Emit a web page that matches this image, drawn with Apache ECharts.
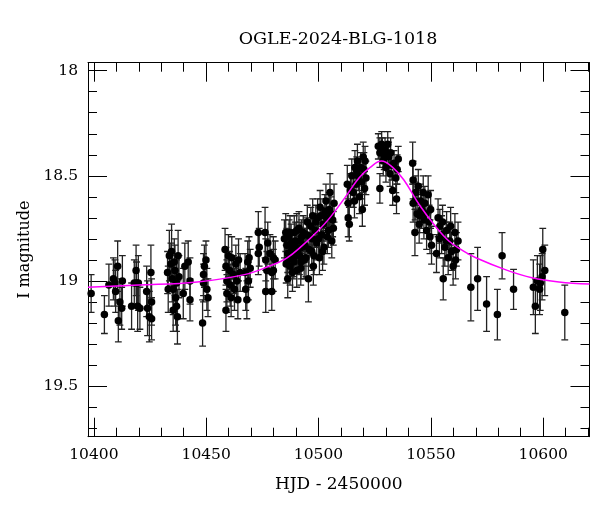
<!DOCTYPE html>
<html>
<head>
<meta charset="utf-8">
<script src="https://cdn.jsdelivr.net/npm/echarts@6/dist/echarts.min.js"></script>
<style>html,body{margin:0;padding:0;background:#fff}#c{width:600px;height:512px}</style>
</head>
<body>
<div id="c"></div>
<script>
// Observations: [HJD-2450000, I magnitude, error]
const obs = [
[10398.8,19.06,0.09],[10404.7,19.16,0.09],[10406.7,19.02,0.10],[10408.7,18.99,0.10],[10409.4,19.01,0.11],
[10409.7,19.05,0.10],[10410.6,18.93,0.12],[10410.9,19.19,0.10],[10411.6,19.10,0.11],[10412.4,19.13,0.10],
[10412.7,19.00,0.12],[10416.8,19.12,0.11],[10418.0,19.01,0.11],[10418.8,18.95,0.12],[10419.0,19.01,0.10],
[10419.5,19.12,0.12],[10419.8,19.01,0.13],[10420.5,19.13,0.10],[10423.5,19.05,0.12],[10423.9,19.13,0.13],
[10424.7,19.17,0.12],[10425.4,18.96,0.13],[10425.7,19.10,0.11],[10425.7,19.18,0.10],[10432.8,18.96,0.10],
[10433.1,19.04,0.11],[10433.6,18.88,0.12],[10434.3,18.92,0.10],[10434.6,18.86,0.13],[10434.9,18.99,0.11],
[10435.3,19.04,0.12],[10435.3,19.14,0.10],[10435.8,18.91,0.11],[10436.1,18.95,0.12],[10436.4,19.08,0.13],
[10436.8,19.01,0.11],[10436.8,19.12,0.12],[10437.2,19.17,0.13],[10437.5,18.88,0.12],[10437.9,18.98,0.10],
[10439.8,19.06,0.12],[10440.5,18.93,0.11],[10442.0,18.91,0.10],[10442.8,19.00,0.11],[10442.8,19.09,0.10],
[10448.4,19.20,0.11],[10448.8,18.97,0.10],[10448.8,19.01,0.09],[10449.2,18.93,0.10],[10449.9,18.90,0.09],
[10450.3,19.04,0.10],[10450.8,19.08,0.09],[10458.4,18.85,0.10],[10458.8,19.14,0.10],[10458.8,18.93,0.09],
[10459.2,19.00,0.10],[10459.2,19.06,0.09],[10459.9,18.88,0.10],[10460.4,18.95,0.09],[10460.7,19.02,0.10],
[10461.1,19.08,0.09],[10461.4,18.89,0.10],[10462.1,18.97,0.09],[10462.6,19.04,0.10],[10463.2,18.92,0.09],
[10463.6,19.00,0.10],[10464.1,19.09,0.09],[10464.4,18.90,0.10],[10465.1,18.96,0.09],[10467.3,18.96,0.09],
[10467.6,19.04,0.10],[10468.1,19.09,0.09],[10468.5,18.91,0.10],[10468.8,19.00,0.09],[10469.1,18.89,0.10],
[10469.6,18.94,0.09],[10473.2,18.77,0.10],[10473.6,18.84,0.09],[10473.2,18.87,0.10],[10476.2,18.77,0.12],
[10476.5,18.90,0.10],[10476.5,19.05,0.10],[10477.0,18.95,0.09],[10477.4,18.82,0.10],[10478.4,18.87,0.09],
[10479.2,19.05,0.09],[10479.9,18.95,0.10],[10480.7,18.90,0.09],[10479.2,18.96,0.09],[10479.9,18.89,0.10],
[10485.4,18.77,0.09],[10485.9,18.83,0.08],[10486.3,18.87,0.09],[10486.3,18.99,0.09],[10486.9,18.79,0.08],
[10487.3,18.93,0.09],[10488.1,18.85,0.08],[10488.8,18.89,0.09],[10489.2,18.77,0.08],[10489.6,18.81,0.09],
[10490.3,18.95,0.08],[10490.8,18.86,0.09],[10491.3,18.75,0.08],[10491.8,18.81,0.09],[10492.2,18.91,0.08],
[10492.8,18.84,0.09],[10493.2,18.77,0.08],[10486.1,18.90,0.09],[10487.3,18.77,0.08],[10489.6,18.86,0.09],
[10490.3,18.76,0.08],[10492.1,18.94,0.08],[10494.0,18.83,0.08],[10494.4,18.89,0.09],[10495.0,18.72,0.08],
[10495.5,18.99,0.11],[10496.2,18.79,0.08],[10497.0,18.86,0.09],[10497.4,18.69,0.08],[10497.7,18.93,0.09],
[10498.4,18.76,0.08],[10499.2,18.82,0.08],[10499.6,18.70,0.09],[10500.4,18.89,0.08],[10500.7,18.65,0.08],
[10501.4,18.78,0.09],[10502.1,18.73,0.08],[10502.4,18.84,0.08],[10503.3,18.62,0.08],[10503.6,18.70,0.09],
[10504.4,18.76,0.08],[10504.8,18.66,0.08],[10505.1,18.58,0.09],[10505.9,18.81,0.08],[10506.3,18.71,0.08],
[10506.9,18.63,0.09],
[10484.8,18.80,0.09],[10485.6,18.92,0.09],[10487.8,18.82,0.09],[10488.4,18.96,0.09],[10489.0,18.91,0.08],
[10490.0,18.84,0.08],[10491.5,18.88,0.09],[10492.5,18.79,0.08],[10493.6,18.90,0.09],[10494.7,18.78,0.08],
[10495.8,18.85,0.08],[10496.6,18.74,0.09],[10497.2,18.80,0.08],[10498.0,18.88,0.09],[10498.8,18.72,0.08],
[10500.0,18.80,0.08],[10501.0,18.69,0.08],[10501.8,18.86,0.09],[10502.8,18.67,0.08],[10503.9,18.79,0.08],
[10505.5,18.68,0.08],[10506.6,18.75,0.08],
[10512.8,18.54,0.09],[10513.2,18.63,0.08],[10513.2,18.70,0.09],[10513.7,18.73,0.08],[10514.8,18.50,0.08],
[10515.5,18.58,0.07],[10516.2,18.46,0.08],[10516.7,18.54,0.07],[10517.3,18.43,0.08],[10517.7,18.50,0.07],
[10518.2,18.60,0.08],[10518.8,18.46,0.07],[10519.2,18.53,0.08],[10519.9,18.41,0.07],[10520.2,18.47,0.08],
[10520.7,18.43,0.07],[10521.1,18.51,0.08],[10519.5,18.66,0.08],
[10514.2,18.57,0.08],[10516.0,18.62,0.08],[10517.0,18.48,0.07],[10520.5,18.56,0.08],
[10526.6,18.36,0.06],[10527.3,18.39,0.07],[10527.3,18.56,0.07],[10528.1,18.35,0.06],[10528.8,18.43,0.07],
[10529.6,18.38,0.06],[10530.0,18.46,0.07],[10530.8,18.35,0.06],[10531.2,18.41,0.07],[10531.8,18.49,0.06],
[10532.1,18.39,0.07],[10533.0,18.57,0.07],[10533.6,18.44,0.06],[10534.4,18.51,0.07],[10534.7,18.61,0.07],
[10535.5,18.42,0.06],
[10529.2,18.41,0.06],[10532.6,18.45,0.07],[10528.4,18.38,0.06],[10535.0,18.47,0.07],
[10541.9,18.44,0.10],[10542.1,18.52,0.09],[10542.1,18.63,0.09],[10542.9,18.77,0.11],[10543.3,18.58,0.08],
[10543.9,18.68,0.09],[10544.4,18.55,0.08],[10544.8,18.73,0.09],[10545.4,18.62,0.08],[10545.9,18.66,0.09],
[10546.6,18.58,0.08],[10546.9,18.71,0.09],[10547.3,18.63,0.08],[10548.1,18.76,0.09],[10548.8,18.59,0.09],
[10549.6,18.79,0.08],[10549.9,18.66,0.09],[10550.3,18.83,0.09],
[10543.0,18.62,0.09],[10545.0,18.69,0.08],[10547.8,18.68,0.09],[10549.2,18.72,0.08],
[10552.5,18.87,0.09],[10553.2,18.70,0.09],[10554.0,18.74,0.08],[10554.8,18.78,0.09],[10555.2,18.72,0.08],
[10555.5,18.99,0.10],[10556.2,18.84,0.09],[10557.0,18.76,0.09],[10557.7,18.89,0.08],[10558.4,18.81,0.09],
[10559.2,18.86,0.09],[10559.9,18.93,0.09],[10560.7,18.77,0.09],[10561.4,18.85,0.08],[10562.1,18.81,0.09],
[10553.8,18.80,0.09],[10556.8,18.81,0.09],[10558.8,18.74,0.09],[10561.0,18.90,0.09],
[10567.8,19.03,0.16],[10570.8,18.99,0.15],[10574.8,19.11,0.13],[10579.6,19.16,0.12],[10581.7,18.88,0.11],
[10586.8,19.04,0.095],[10595.6,19.03,0.13],[10596.5,19.12,0.13],[10597.4,19.00,0.12],[10598.4,19.04,0.12],
[10598.7,19.01,0.13],[10599.5,18.98,0.11],[10599.8,18.85,0.10],[10600.7,18.95,0.12],[10609.6,19.15,0.13]
];
// Model light curve
const modelHjd = [10397.4,10420,10446,10467,10478,10486,10493,10499,10505,10512,10518,10523,10528,10533,10538,10545,10552,10558,10564,10570,10584,10595,10607,10620.6];
const modelMag = [19.03,19.02,19.005,18.97,18.93,18.89,18.83,18.77,18.70,18.60,18.51,18.46,18.43,18.46,18.52,18.64,18.74,18.81,18.855,18.89,18.95,18.985,19.005,19.015];
const xMajor = [10400,10450,10500,10550,10600];
const xMinor = [10410,10420,10430,10440,10460,10470,10480,10490,10510,10520,10530,10540,10560,10570,10580,10590,10610,10620];
const yMajor = [18,18.5,19,19.5];
const yMinor = [18.1,18.2,18.3,18.4,18.6,18.7,18.8,18.9,19.1,19.2,19.3,19.4,19.6,19.7];
const titleText = 'OGLE-2024-BLG-1018';
const xName = 'HJD - 2450000';
const yName = 'I magnitude';

const XMIN = 10397.4, XMAX = 10620.6, YMIN = 17.962, YMAX = 19.741;
const FONT = 'DejaVu Serif';
const model = modelHjd.map((h, i) => [h, modelMag[i]]);

function xAx(pos, vals, len, major, label) {
  return {
    type: 'value', position: pos, min: XMIN, max: XMAX,
    axisLine: { show: major, onZero: false, lineStyle: { color: '#000', width: 1 } },
    axisTick: { show: true, inside: true, length: len, customValues: vals, lineStyle: { color: '#000', width: 1 } },
    axisLabel: label ? { show: true, customValues: vals, margin: 10, color: '#000', fontFamily: FONT, fontSize: 15.5,
      formatter: v => String(v) } : { show: false },
    splitLine: { show: false }
  };
}
function yAx(pos, vals, len, major, label) {
  return {
    type: 'value', position: pos, min: YMIN, max: YMAX, inverse: true,
    axisLine: { show: major, onZero: false, lineStyle: { color: '#000', width: 1 } },
    axisTick: { show: true, inside: true, length: len, customValues: vals, lineStyle: { color: '#000', width: 1 } },
    axisLabel: label ? { show: true, customValues: vals, margin: 10, color: '#000', fontFamily: FONT, fontSize: 15.5,
      formatter: v => String(v) } : { show: false },
    splitLine: { show: false }
  };
}
const xa0 = xAx('bottom', xMajor, 19, true, true);
xa0.name = xName; xa0.nameLocation = 'middle'; xa0.nameGap = 39;
xa0.nameTextStyle = { color: '#000', fontFamily: FONT, fontSize: 17 };
const ya0 = yAx('left', yMajor, 19, true, true);
ya0.name = yName; ya0.nameLocation = 'middle'; ya0.nameGap = 51;
ya0.nameTextStyle = { color: '#000', fontFamily: FONT, fontSize: 16 };

const chart = echarts.init(document.getElementById('c'), null, { renderer: 'canvas' });
chart.setOption({
  animation: false,
  backgroundColor: '#fff',
  title: { text: titleText, left: 333, top: 25, textAlign: 'center',
    textStyle: { color: '#000', fontFamily: FONT, fontSize: 17.5, fontWeight: 'normal' } },
  grid: { left: 88, right: 10.5, top: 62.7, bottom: 75.3, containLabel: false },
  xAxis: [xa0, xAx('bottom', xMinor, 9, false, false), xAx('top', xMajor, 19, true, false), xAx('top', xMinor, 9, false, false)],
  yAxis: [ya0, yAx('left', yMinor, 9, false, false), yAx('right', yMajor, 19, true, false), yAx('right', yMinor, 9, false, false)],
  series: [
    {
      type: 'custom', xAxisIndex: 0, yAxisIndex: 0, data: obs, encode: { x: 0, y: 1 }, z: 2, clip: true,
      renderItem: function (params, api) {
        const x = api.value(0), y = api.value(1), e = api.value(2);
        const a = api.coord([x, y - e]), b = api.coord([x, y + e]);
        const w = 3.4, st = { stroke: '#222', lineWidth: 1.3 };
        return { type: 'group', children: [
          { type: 'line', shape: { x1: a[0], y1: a[1], x2: b[0], y2: b[1] }, style: st },
          { type: 'line', shape: { x1: a[0] - w, y1: a[1], x2: a[0] + w, y2: a[1] }, style: st },
          { type: 'line', shape: { x1: b[0] - w, y1: b[1], x2: b[0] + w, y2: b[1] }, style: st }
        ] };
      }
    },
    {
      type: 'scatter', xAxisIndex: 0, yAxisIndex: 0, data: obs.map(o => [o[0], o[1]]),
      symbol: 'circle', symbolSize: 7.5, itemStyle: { color: '#000', opacity: 1 }, z: 3
    },
    {
      type: 'line', xAxisIndex: 0, yAxisIndex: 0, data: model, smooth: 0.4, showSymbol: false, symbol: 'none',
      lineStyle: { color: '#ff00ff', width: 1.5 }, z: 4
    }
  ]
});
</script>
</body>
</html>
